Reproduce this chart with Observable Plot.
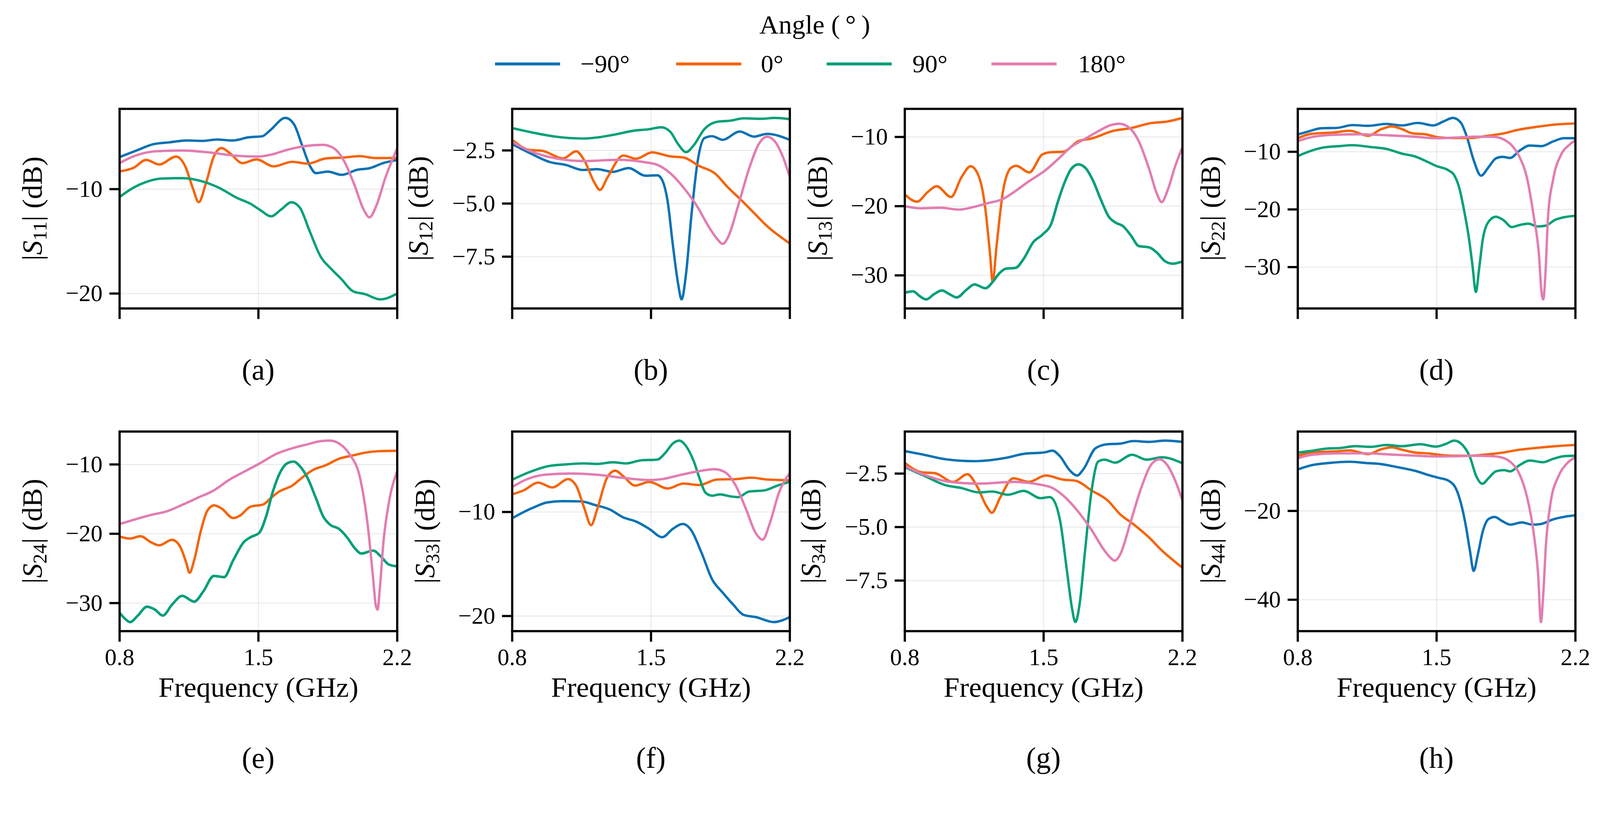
<!DOCTYPE html>
<html><head><meta charset="utf-8">
<script src="https://cdn.jsdelivr.net/npm/d3@7"></script>
<script src="https://cdn.jsdelivr.net/npm/@observablehq/plot@0.6"></script>
<style>
html,body{margin:0;padding:0;background:#fff;overflow:hidden;}
#fig{position:absolute;left:0;top:0;width:4328px;height:2120px;background:#fff;color:#000;overflow:hidden;transform-origin:0 0}
#fig, #fig div, #fig svg, #fig text, #fig tspan{font-family:"Liberation Serif",serif !important;}
.abs{position:absolute;white-space:nowrap;line-height:1}
</style></head><body><div id="fig"></div>
<script>
// ---------- categories / labels ----------
const angles = ["\u221290°", "0°", "90°", "180°"];
const colors = ["#0a72b4", "#f5640a", "#00a077", "#e27db0"];
const legendTitle = "Angle (\u2009°\u2009)";
const freqTicks = [0.8, 1.5, 2.2];
const panelLetters = ["(a)", "(b)", "(c)", "(d)", "(e)", "(f)", "(g)", "(h)"];
const portLabels = ["11", "12", "13", "22", "24", "33", "34", "44"];
const yTicksA = [-10, -20];
const yTicksB = [-2.5, -5.0, -7.5];
const yTicksC = [-10, -20, -30];
const yTicksD = [-10, -20, -30];
const yTicksE = [-10, -20, -30];
const yTicksF = [-10, -20];
const yTicksG = [-2.5, -5.0, -7.5];
const yTicksH = [-20, -40];

// ---------- (a) |S11| ----------
const S11_m90 = [[0.8,-6.93],[0.88,-6.34],[0.97,-5.70],[1.05,-5.52],[1.14,-5.34],[1.22,-5.38],[1.29,-5.25],[1.37,-5.34],[1.45,-5.04],[1.52,-4.93],[1.56,-4.35],[1.636,-3.18],[1.68,-3.81],[1.72,-5.79],[1.76,-7.78],[1.79,-8.47],[1.85,-8.32],[1.92,-8.63],[2.0,-8.14],[2.06,-8.0],[2.13,-7.5],[2.2,-7.2]];
const S11_0 = [[0.8,-8.3],[0.87,-7.96],[0.934,-7.2],[1.0,-7.64],[1.085,-6.88],[1.13,-7.78],[1.17,-9.95],[1.199,-11.25],[1.236,-9.4],[1.275,-6.88],[1.314,-6.07],[1.354,-6.52],[1.42,-7.51],[1.49,-7.15],[1.577,-7.82],[1.67,-7.38],[1.748,-7.56],[1.84,-7.06],[1.93,-6.97],[2.01,-6.84],[2.09,-7.02],[2.2,-7.02]];
const S11_90 = [[0.8,-10.75],[0.87,-9.86],[0.934,-9.31],[1.01,-8.99],[1.118,-8.95],[1.21,-9.22],[1.30,-9.86],[1.393,-10.85],[1.459,-11.39],[1.51,-12.02],[1.564,-12.6],[1.616,-11.93],[1.666,-11.26],[1.708,-11.75],[1.76,-14.1],[1.813,-16.44],[1.866,-17.62],[1.918,-18.61],[1.977,-19.78],[2.036,-20.05],[2.115,-20.56],[2.2,-20.0]];
const S11_180 = [[0.8,-7.5],[0.88,-6.79],[0.986,-6.37],[1.118,-6.30],[1.249,-6.48],[1.38,-6.79],[1.498,-6.88],[1.564,-6.70],[1.643,-6.25],[1.734,-5.88],[1.826,-5.76],[1.879,-6.07],[1.93,-7.24],[1.984,-9.58],[2.03,-11.93],[2.06,-12.7],[2.095,-11.57],[2.141,-8.86],[2.2,-6.1]];

// ---------- (b) |S12| ----------
const S12_m90 = [[0.8,-2.2],[0.886,-2.61],[0.991,-3.05],[1.07,-3.18],[1.156,-3.42],[1.228,-3.38],[1.307,-3.51],[1.387,-3.33],[1.472,-3.69],[1.532,-3.67],[1.558,-3.93],[1.584,-4.91],[1.61,-6.94],[1.637,-8.8],[1.654,-9.51],[1.677,-8.27],[1.703,-5.62],[1.736,-2.96],[1.769,-1.92],[1.808,-1.83],[1.861,-2.0],[1.947,-1.61],[2.019,-1.85],[2.085,-1.72],[2.2,-2.0]];
const S12_0 = [[0.8,-2.0],[0.886,-2.47],[0.952,-2.52],[1.057,-2.87],[1.123,-2.54],[1.163,-2.96],[1.215,-4.02],[1.242,-4.36],[1.281,-3.76],[1.36,-2.74],[1.426,-2.89],[1.505,-2.59],[1.598,-2.78],[1.663,-2.83],[1.743,-3.23],[1.822,-3.58],[1.888,-4.24],[1.953,-4.82],[2.019,-5.44],[2.085,-6.06],[2.2,-6.88]];
const S12_90 = [[0.8,-1.45],[0.899,-1.65],[1.017,-1.85],[1.162,-1.94],[1.307,-1.77],[1.413,-1.57],[1.492,-1.50],[1.551,-1.41],[1.598,-1.63],[1.637,-2.21],[1.677,-2.58],[1.716,-2.25],[1.769,-1.50],[1.835,-1.15],[1.90,-1.10],[1.967,-0.99],[2.059,-1.01],[2.125,-0.97],[2.2,-1.03]];
const S12_180 = [[0.8,-2.1],[0.899,-2.56],[1.017,-2.87],[1.162,-3.0],[1.334,-2.94],[1.466,-3.05],[1.532,-3.18],[1.598,-3.58],[1.663,-4.24],[1.729,-5.08],[1.795,-6.15],[1.835,-6.68],[1.861,-6.9],[1.888,-6.59],[1.94,-5.08],[1.993,-3.4],[2.046,-2.16],[2.085,-1.85],[2.125,-2.08],[2.164,-2.78],[2.2,-3.75]];

// ---------- (c) |S13| ----------
const S13_m90 = [[0.8,-32.5],[0.842,-32.3],[0.875,-33.0],[0.908,-33.47],[0.947,-32.73],[0.987,-32.18],[1.026,-32.73],[1.062,-33.19],[1.112,-32.05],[1.151,-31.31],[1.207,-31.86],[1.243,-30.95],[1.276,-29.73],[1.309,-29.04],[1.359,-28.91],[1.401,-27.54],[1.447,-25.23],[1.493,-24.13],[1.539,-22.5],[1.572,-19.36],[1.605,-16.63],[1.638,-14.67],[1.675,-13.96],[1.71,-14.45],[1.75,-16.36],[1.789,-19.09],[1.829,-21.54],[1.862,-22.36],[1.901,-22.9],[1.941,-24.27],[1.98,-25.77],[2.033,-25.96],[2.072,-26.73],[2.112,-27.95],[2.151,-28.31],[2.2,-28.0]];
const S13_0 = [[0.8,-18.3],[0.862,-19.36],[0.914,-18.0],[0.961,-17.12],[1.033,-18.68],[1.086,-15.81],[1.132,-14.23],[1.171,-15.54],[1.204,-19.9],[1.23,-27.0],[1.243,-30.95],[1.263,-25.63],[1.296,-17.72],[1.336,-14.45],[1.362,-14.17],[1.428,-15.13],[1.493,-12.54],[1.533,-12.21],[1.599,-12.13],[1.678,-10.57],[1.743,-10.22],[1.849,-9.13],[1.941,-8.72],[2.033,-8.04],[2.125,-7.76],[2.2,-7.25]];
const S13_90 = [[0.8,-32.5],[0.842,-32.3],[0.875,-33.0],[0.908,-33.47],[0.947,-32.73],[0.987,-32.18],[1.026,-32.73],[1.062,-33.19],[1.112,-32.05],[1.151,-31.31],[1.207,-31.86],[1.243,-30.95],[1.276,-29.73],[1.309,-29.04],[1.359,-28.91],[1.401,-27.54],[1.447,-25.23],[1.493,-24.13],[1.539,-22.5],[1.572,-19.36],[1.605,-16.63],[1.638,-14.67],[1.675,-13.96],[1.71,-14.45],[1.75,-16.36],[1.789,-19.09],[1.829,-21.54],[1.862,-22.36],[1.901,-22.9],[1.941,-24.27],[1.98,-25.77],[2.033,-25.96],[2.072,-26.73],[2.112,-27.95],[2.151,-28.31],[2.2,-28.0]];
const S13_180 = [[0.8,-20.0],[0.875,-20.31],[0.98,-20.23],[1.072,-20.5],[1.138,-20.18],[1.217,-19.58],[1.296,-18.95],[1.349,-17.99],[1.428,-16.36],[1.507,-14.86],[1.572,-13.22],[1.638,-11.45],[1.704,-10.35],[1.77,-9.26],[1.836,-8.31],[1.882,-8.09],[1.928,-8.58],[1.98,-10.63],[2.033,-14.72],[2.072,-18.27],[2.095,-19.41],[2.125,-17.72],[2.164,-14.17],[2.2,-11.5]];

// ---------- (d) |S22| ----------
const S22_m90 = [[0.8,-7.0],[0.853,-6.48],[0.918,-5.92],[0.997,-5.86],[1.076,-5.37],[1.155,-5.5],[1.247,-5.17],[1.326,-5.43],[1.405,-5.0],[1.484,-5.43],[1.536,-4.71],[1.582,-4.13],[1.622,-4.94],[1.654,-7.55],[1.687,-11.47],[1.724,-14.14],[1.76,-12.77],[1.799,-11.14],[1.832,-10.88],[1.871,-11.08],[1.917,-9.84],[1.97,-8.92],[2.029,-9.02],[2.088,-8.21],[2.141,-7.65],[2.2,-7.65]];
const S22_0 = [[0.8,-7.65],[0.866,-6.9],[0.984,-6.64],[1.063,-6.35],[1.155,-7.23],[1.221,-6.08],[1.273,-5.6],[1.326,-6.08],[1.378,-6.8],[1.444,-6.97],[1.51,-7.49],[1.589,-7.62],[1.668,-7.62],[1.746,-7.29],[1.825,-6.9],[1.917,-6.15],[2.009,-5.66],[2.101,-5.27],[2.2,-5.1]];
const S22_90 = [[0.8,-10.75],[0.853,-10.0],[0.931,-9.25],[1.01,-9.02],[1.076,-8.86],[1.168,-9.18],[1.247,-9.51],[1.326,-10.33],[1.392,-10.82],[1.457,-11.79],[1.497,-12.45],[1.562,-13.26],[1.589,-14.08],[1.615,-16.36],[1.641,-20.6],[1.661,-24.52],[1.681,-29.74],[1.698,-34.31],[1.714,-30.4],[1.733,-25.17],[1.76,-22.23],[1.799,-21.26],[1.839,-21.91],[1.878,-23.05],[1.917,-22.72],[1.963,-22.46],[2.009,-22.95],[2.049,-22.82],[2.101,-21.75],[2.2,-21.1]];
const S22_180 = [[0.8,-8.15],[0.879,-7.39],[0.984,-7.06],[1.115,-6.97],[1.26,-7.16],[1.392,-7.39],[1.497,-7.65],[1.589,-7.55],[1.694,-7.39],[1.786,-7.39],[1.839,-7.88],[1.878,-8.86],[1.917,-10.82],[1.957,-14.73],[1.99,-21.26],[2.016,-27.78],[2.029,-34.3],[2.038,-35.6],[2.049,-31.03],[2.062,-21.26],[2.088,-14.73],[2.128,-10.49],[2.167,-8.86],[2.2,-8.0]];

// ---------- (e) |S24| ----------
const S24_m90 = [[0.8,-31.4],[0.826,-32.22],[0.853,-32.74],[0.892,-31.8],[0.938,-30.52],[0.978,-30.94],[1.018,-31.8],[1.064,-30.24],[1.116,-28.96],[1.176,-29.79],[1.222,-28.33],[1.275,-26.08],[1.327,-26.25],[1.373,-23.82],[1.426,-21.22],[1.459,-20.52],[1.505,-19.83],[1.538,-17.57],[1.571,-14.1],[1.604,-11.49],[1.644,-9.86],[1.677,-9.58],[1.71,-10.28],[1.749,-12.01],[1.789,-14.79],[1.828,-17.57],[1.861,-18.68],[1.907,-19.31],[1.947,-20.52],[1.986,-22.08],[2.019,-22.85],[2.079,-22.43],[2.118,-23.3],[2.158,-24.44],[2.2,-24.7]];
const S24_0 = [[0.8,-20.4],[0.853,-20.69],[0.905,-20.35],[0.958,-21.22],[1.0,-21.67],[1.064,-20.87],[1.103,-21.74],[1.136,-24.17],[1.153,-25.63],[1.176,-23.82],[1.209,-19.65],[1.242,-16.7],[1.277,-15.9],[1.314,-16.35],[1.373,-17.74],[1.406,-17.4],[1.459,-16.11],[1.525,-15.76],[1.565,-14.79],[1.604,-13.92],[1.67,-13.06],[1.723,-11.84],[1.775,-10.8],[1.841,-10.1],[1.907,-9.17],[1.973,-8.72],[2.039,-8.3],[2.105,-8.09],[2.2,-8.02]];
const S24_90 = [[0.8,-31.4],[0.826,-32.22],[0.853,-32.74],[0.892,-31.8],[0.938,-30.52],[0.978,-30.94],[1.018,-31.8],[1.064,-30.24],[1.116,-28.96],[1.176,-29.79],[1.222,-28.33],[1.275,-26.08],[1.327,-26.25],[1.373,-23.82],[1.426,-21.22],[1.459,-20.52],[1.505,-19.83],[1.538,-17.57],[1.571,-14.1],[1.604,-11.49],[1.644,-9.86],[1.677,-9.58],[1.71,-10.28],[1.749,-12.01],[1.789,-14.79],[1.828,-17.57],[1.861,-18.68],[1.907,-19.31],[1.947,-20.52],[1.986,-22.08],[2.019,-22.85],[2.079,-22.43],[2.118,-23.3],[2.158,-24.44],[2.2,-24.7]];
const S24_180 = [[0.8,-18.6],[0.879,-17.92],[0.958,-17.29],[1.037,-16.77],[1.116,-15.83],[1.195,-14.79],[1.275,-13.75],[1.354,-12.19],[1.433,-10.97],[1.512,-9.76],[1.591,-8.47],[1.67,-7.67],[1.749,-7.08],[1.815,-6.63],[1.861,-6.56],[1.907,-6.98],[1.96,-8.54],[2.013,-12.01],[2.052,-18.96],[2.079,-26.6],[2.092,-30.35],[2.101,-30.94],[2.112,-27.99],[2.131,-21.04],[2.158,-15.49],[2.2,-11.0]];

// ---------- (f) |S33| ----------
const S33_m90 = [[0.8,-10.6],[0.858,-10.0],[0.911,-9.54],[0.977,-9.08],[1.056,-8.96],[1.148,-8.98],[1.214,-9.31],[1.293,-9.77],[1.359,-10.51],[1.425,-10.92],[1.491,-11.62],[1.557,-12.42],[1.61,-11.62],[1.66,-11.15],[1.702,-11.73],[1.755,-13.93],[1.808,-16.47],[1.861,-17.74],[1.914,-18.89],[1.966,-19.88],[2.032,-20.12],[2.118,-20.58],[2.2,-20.1]];
const S33_0 = [[0.8,-8.3],[0.858,-7.92],[0.931,-7.18],[1.003,-7.64],[1.082,-6.84],[1.122,-7.46],[1.162,-9.54],[1.198,-11.27],[1.228,-9.77],[1.28,-6.65],[1.32,-6.03],[1.359,-6.54],[1.419,-7.46],[1.491,-7.11],[1.584,-7.74],[1.663,-7.27],[1.742,-7.41],[1.834,-6.88],[1.927,-6.84],[2.006,-6.7],[2.085,-6.88],[2.2,-6.95]];
const S33_90 = [[0.8,-6.9],[0.884,-6.19],[0.977,-5.61],[1.069,-5.43],[1.162,-5.33],[1.228,-5.38],[1.307,-5.22],[1.373,-5.33],[1.452,-5.03],[1.531,-4.97],[1.571,-4.34],[1.61,-3.42],[1.643,-3.14],[1.676,-3.65],[1.716,-5.15],[1.749,-7.0],[1.775,-8.15],[1.808,-8.43],[1.848,-8.31],[1.9,-8.5],[1.94,-8.57],[1.993,-8.04],[2.072,-7.92],[2.138,-7.46],[2.2,-7.1]];
const S33_180 = [[0.8,-7.6],[0.871,-6.88],[0.964,-6.42],[1.096,-6.3],[1.228,-6.42],[1.359,-6.72],[1.491,-6.93],[1.557,-6.84],[1.637,-6.49],[1.729,-6.12],[1.821,-5.89],[1.874,-6.19],[1.927,-7.46],[1.98,-9.77],[2.026,-11.96],[2.063,-12.66],[2.098,-11.15],[2.145,-8.15],[2.2,-6.25]];

// ---------- (g) |S34| ----------
const S34_m90 = [[0.8,-1.45],[0.886,-1.6],[1.004,-1.83],[1.149,-1.92],[1.307,-1.77],[1.399,-1.58],[1.505,-1.51],[1.544,-1.43],[1.584,-1.71],[1.63,-2.33],[1.669,-2.59],[1.702,-2.28],[1.761,-1.32],[1.821,-1.13],[1.887,-1.1],[1.952,-0.98],[2.031,-1.02],[2.11,-0.96],[2.2,-1.02]];
const S34_0 = [[0.8,-2.0],[0.886,-2.44],[0.951,-2.48],[1.044,-2.89],[1.116,-2.53],[1.162,-3.06],[1.215,-4.07],[1.239,-4.33],[1.281,-3.62],[1.347,-2.72],[1.426,-2.89],[1.511,-2.59],[1.597,-2.78],[1.663,-2.84],[1.742,-3.29],[1.821,-3.74],[1.887,-4.41],[1.952,-4.86],[2.031,-5.48],[2.097,-6.1],[2.2,-6.9]];
const S34_90 = [[0.8,-2.2],[0.899,-2.61],[1.004,-3.04],[1.083,-3.17],[1.175,-3.38],[1.241,-3.34],[1.32,-3.49],[1.399,-3.31],[1.485,-3.65],[1.531,-3.6],[1.557,-3.85],[1.584,-4.75],[1.617,-7.0],[1.643,-8.79],[1.66,-9.44],[1.682,-8.57],[1.709,-6.1],[1.742,-3.29],[1.775,-1.94],[1.807,-1.85],[1.86,-1.99],[1.946,-1.62],[2.018,-1.85],[2.097,-1.74],[2.2,-2.02]];
const S34_180 = [[0.8,-2.15],[0.899,-2.56],[1.03,-2.89],[1.175,-2.97],[1.347,-2.89],[1.478,-3.01],[1.544,-3.17],[1.61,-3.62],[1.676,-4.3],[1.742,-5.14],[1.807,-6.1],[1.84,-6.46],[1.858,-6.57],[1.887,-6.26],[1.939,-4.75],[1.992,-3.17],[2.045,-2.05],[2.084,-1.83],[2.124,-2.11],[2.164,-2.84],[2.2,-3.75]];

// ---------- (h) |S44| ----------
const S44_m90 = [[0.8,-10.65],[0.866,-9.73],[0.958,-9.19],[1.063,-8.92],[1.142,-9.19],[1.221,-9.46],[1.3,-10.11],[1.392,-10.97],[1.457,-11.89],[1.51,-12.54],[1.562,-13.24],[1.602,-15.41],[1.628,-19.19],[1.648,-23.51],[1.668,-28.92],[1.687,-33.51],[1.707,-30.0],[1.733,-24.59],[1.76,-21.89],[1.793,-21.35],[1.832,-22.32],[1.871,-23.08],[1.93,-22.59],[1.983,-23.08],[2.023,-22.97],[2.088,-21.89],[2.141,-21.35],[2.2,-20.97]];
const S44_0 = [[0.8,-7.57],[0.879,-6.76],[0.984,-6.59],[1.063,-6.38],[1.155,-7.19],[1.221,-6.11],[1.273,-5.68],[1.326,-6.22],[1.392,-6.86],[1.457,-7.03],[1.523,-7.41],[1.589,-7.57],[1.668,-7.57],[1.746,-7.3],[1.825,-6.92],[1.917,-6.22],[2.009,-5.78],[2.101,-5.41],[2.2,-5.14]];
const S44_90 = [[0.8,-6.86],[0.866,-6.49],[0.945,-5.95],[1.01,-5.84],[1.089,-5.41],[1.168,-5.57],[1.247,-5.14],[1.326,-5.41],[1.418,-4.97],[1.497,-5.51],[1.549,-4.86],[1.589,-4.16],[1.628,-5.03],[1.668,-7.84],[1.7,-12.16],[1.731,-13.89],[1.76,-12.7],[1.799,-11.08],[1.839,-10.81],[1.871,-11.08],[1.917,-9.73],[1.97,-8.65],[2.036,-9.03],[2.088,-8.27],[2.141,-7.68],[2.2,-7.57]];
const S44_180 = [[0.8,-8.11],[0.879,-7.3],[1.01,-7.03],[1.142,-7.03],[1.273,-7.3],[1.405,-7.57],[1.497,-7.73],[1.589,-7.68],[1.694,-7.57],[1.786,-7.68],[1.839,-8.11],[1.878,-9.19],[1.917,-11.62],[1.957,-17.03],[1.99,-25.14],[2.012,-34.32],[2.026,-45.03],[2.038,-38.65],[2.051,-27.84],[2.075,-18.11],[2.115,-12.16],[2.154,-9.46],[2.2,-7.95]];

// ---------- assemble ----------
const panelSeries = [
  [S11_m90, S11_0, S11_90, S11_180],
  [S12_m90, S12_0, S12_90, S12_180],
  [S13_m90, S13_0, S13_90, S13_180],
  [S22_m90, S22_0, S22_90, S22_180],
  [S24_m90, S24_0, S24_90, S24_180],
  [S33_m90, S33_0, S33_90, S33_180],
  [S34_m90, S34_0, S34_90, S34_180],
  [S44_m90, S44_0, S44_90, S44_180]
];
const panelYTicks = [yTicksA, yTicksB, yTicksC, yTicksD, yTicksE, yTicksF, yTicksG, yTicksH];

// ---------- layout ----------
const fig = document.getElementById("fig");
function fit() {
  const s = Math.min(window.innerWidth / 4328, window.innerHeight / 2120);
  fig.style.transform = `scale(${s})`;
}
fit();
window.addEventListener("resize", fit);

const FONT = '"Liberation Serif", serif';
const colLeft = [323, 1385, 2447, 3510];
const rowTop = [294, 1167];
const PW = 751, PH = 540;
const captionY = [1000, 2050];

panelSeries.forEach((series, i) => {
  const col = i % 4, row = Math.floor(i / 4);
  const ticks = panelYTicks[i];
  const decimals = ticks.some(t => !Number.isInteger(t));
  const fmt = decimals ? d3.format(".1f") : d3.format("d");
  const rows = series.flatMap((arr, k) => arr.map(([f, v]) => ({f, v, angle: angles[k]})));
  const vals = rows.map(d => d.v);
  const lo = d3.min(vals), hi = d3.max(vals), pad = 0.05 * (hi - lo);
  const mL = 300, mR = 30, mT = 20, mB = row === 0 ? 60 : 220;
  const marks = [
    Plot.gridX(freqTicks, {stroke: "#000", strokeOpacity: 0.09, strokeWidth: 2.5}),
    Plot.gridY(ticks, {stroke: "#000", strokeOpacity: 0.09, strokeWidth: 2.5}),
    Plot.line(rows, {x: "f", y: "v", z: "angle", stroke: "angle", curve: "monotone-x", strokeWidth: 6.5, clip: true}),
    Plot.frame({stroke: "#000", strokeWidth: 6}),
    row === 0
      ? Plot.axisX(freqTicks, {tickSize: 29, strokeWidth: 6, fill: "none", tickFormat: () => "", label: null})
      : Plot.axisX(freqTicks, {tickSize: 29, strokeWidth: 6, tickPadding: 18, fontSize: 64, fontFamily: FONT, label: null, tickFormat: d3.format(".1f")}),
    Plot.axisY(ticks, {tickSize: 27, strokeWidth: 6, tickPadding: 19, fontSize: 64, fontFamily: FONT, label: null, tickFormat: fmt})
  ];
  if (row === 1) {
    marks.push(Plot.text(["Frequency (GHz)"], {text: d => d, frameAnchor: "bottom", dy: 153, fontSize: 77, fontFamily: FONT, lineAnchor: "middle"}));
  }
  const svgEl = Plot.plot({
    width: mL + PW + mR,
    height: mT + PH + mB,
    marginLeft: mL, marginRight: mR, marginTop: mT, marginBottom: mB,
    style: {fontFamily: FONT, fontSize: "64px", overflow: "visible", background: "transparent", maxWidth: "none"},
    x: {domain: [0.8, 2.2]},
    y: {domain: [lo - pad, hi + pad]},
    color: {domain: angles, range: colors},
    marks
  });
  // y-axis label with italic S and subscript
  const svg = d3.select(svgEl);
  const lx = mL - (decimals ? 228 : 210), ly = mT + PH / 2;
  const t = svg.append("text")
    .attr("transform", `translate(${lx},${ly}) rotate(-90)`)
    .attr("text-anchor", "middle")
    .attr("font-family", FONT)
    .attr("font-size", 77)
    .attr("fill", "#000");
  t.append("tspan").text("|");
  t.append("tspan").attr("font-style", "italic").text("S");
  t.append("tspan").attr("font-size", 54).attr("dy", 13).text(portLabels[i]);
  t.append("tspan").attr("dy", -13).text("| (dB)");

  const wrap = document.createElement("div");
  wrap.className = "abs";
  wrap.style.left = (colLeft[col] - mL) + "px";
  wrap.style.top = (rowTop[row] - mT) + "px";
  wrap.appendChild(svgEl);
  fig.appendChild(wrap);

  const cap = document.createElement("div");
  cap.className = "abs";
  cap.style.fontSize = "80px";
  cap.style.left = (colLeft[col] + PW / 2) + "px";
  cap.style.top = captionY[row] + "px";
  cap.style.transform = "translate(-50%,-50%)";
  cap.textContent = panelLetters[i];
  fig.appendChild(cap);
});

// ---------- legend ----------
const title = document.createElement("div");
title.className = "abs";
title.style.fontSize = "72px";
title.style.left = "2204px";
title.style.top = "67px";
title.style.transform = "translate(-50%,-50%)";
title.textContent = legendTitle;
fig.appendChild(title);

const legLineX = [1339, 1829, 2236, 2682];
const legTextX = [1570, 2058, 2468, 2916];
angles.forEach((a, k) => {
  const ln = document.createElement("div");
  ln.className = "abs";
  ln.style.left = legLineX[k] + "px";
  ln.style.top = (173 - 4) + "px";
  ln.style.width = "176px";
  ln.style.height = "8px";
  ln.style.background = colors[k];
  fig.appendChild(ln);
  const tx = document.createElement("div");
  tx.className = "abs";
  tx.style.fontSize = "68px";
  tx.style.left = legTextX[k] + "px";
  tx.style.top = "173px";
  tx.style.transform = "translateY(-50%)";
  tx.textContent = a;
  fig.appendChild(tx);
});
</script>
</body></html>
